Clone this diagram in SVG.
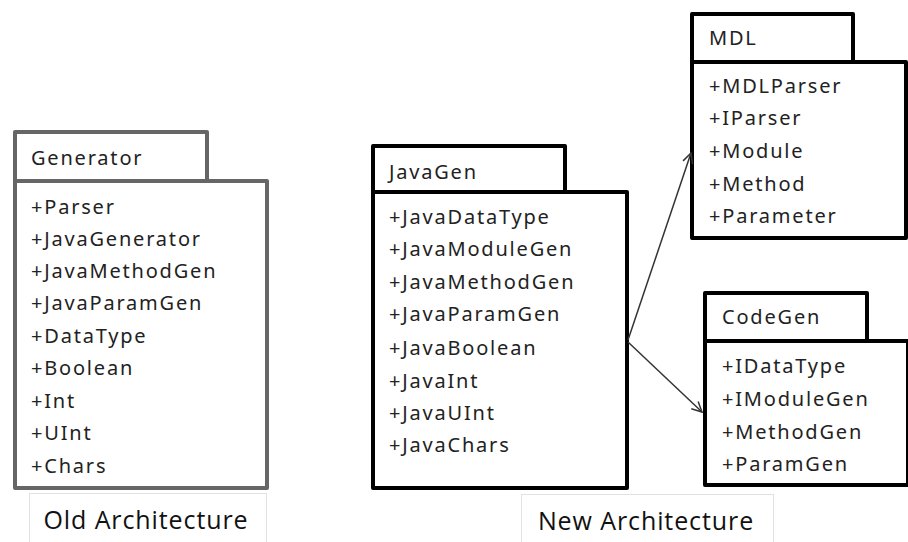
<svg xmlns="http://www.w3.org/2000/svg" width="908" height="542" viewBox="0 0 908 542">
  <style>
    .pkg { fill: #fff; stroke: #000; stroke-width: 4; stroke-linejoin: round; }
    .old { stroke: #666; }
    .t { font-family: "Noto Sans", "Open Sans", "DejaVu Sans", sans-serif; font-size: 20px; letter-spacing: 1.8px; fill: #222; }
    .cap { font-family: "Open Sans", "Noto Sans", sans-serif; font-size: 25px; letter-spacing: 0.9px; fill: #111; }
    .capbox { fill: #fff; stroke: #e2e2e2; stroke-width: 1; }
    .link { fill: none; stroke: #333; stroke-width: 1.5; }
  </style>
  <defs>
    <marker id="open" viewBox="0 0 12 12" refX="11" refY="6" markerWidth="12" markerHeight="12" markerUnits="userSpaceOnUse" orient="auto">
      <path d="M1,1 L11,6 L1,11" fill="none" stroke="#333" stroke-width="1.5"/>
    </marker>
  </defs>
  <rect width="908" height="542" fill="#fff"/>

  <!-- Old architecture: Generator package -->
  <g id="generator">
    <rect class="pkg old" x="15" y="132" width="192" height="49"/>
    <rect class="pkg old" x="15" y="181" width="252" height="307"/>
    <text class="t" x="31" y="165">Generator</text>
    <text class="t" x="31" y="214">+Parser</text>
    <text class="t" x="31" y="246">+JavaGenerator</text>
    <text class="t" x="31" y="278">+JavaMethodGen</text>
    <text class="t" x="31" y="310">+JavaParamGen</text>
    <text class="t" x="31" y="343">+DataType</text>
    <text class="t" x="31" y="375">+Boolean</text>
    <text class="t" x="31" y="408">+Int</text>
    <text class="t" x="31" y="440">+UInt</text>
    <text class="t" x="31" y="473">+Chars</text>
  </g>
  <g id="old-caption">
    <rect class="capbox" x="29.5" y="493.5" width="237" height="60"/>
    <text class="cap" x="146" y="529" text-anchor="middle">Old Architecture</text>
  </g>

  <!-- New architecture: JavaGen package -->
  <g id="javagen">
    <rect class="pkg" x="373" y="146" width="192" height="46"/>
    <rect class="pkg" x="373" y="192" width="254" height="296"/>
    <text class="t" x="389" y="179">JavaGen</text>
    <text class="t" x="389" y="224">+JavaDataType</text>
    <text class="t" x="389" y="256">+JavaModuleGen</text>
    <text class="t" x="389" y="289">+JavaMethodGen</text>
    <text class="t" x="389" y="321">+JavaParamGen</text>
    <text class="t" x="389" y="355">+JavaBoolean</text>
    <text class="t" x="389" y="388">+JavaInt</text>
    <text class="t" x="389" y="420">+JavaUInt</text>
    <text class="t" x="389" y="452">+JavaChars</text>
  </g>

  <!-- MDL package -->
  <g id="mdl">
    <rect class="pkg" x="692" y="14" width="161" height="48"/>
    <rect class="pkg" x="692" y="62" width="214" height="176"/>
    <text class="t" x="709" y="45">MDL</text>
    <text class="t" x="709" y="93">+MDLParser</text>
    <text class="t" x="709" y="125">+IParser</text>
    <text class="t" x="709" y="158">+Module</text>
    <text class="t" x="709" y="191">+Method</text>
    <text class="t" x="709" y="223">+Parameter</text>
  </g>

  <!-- CodeGen package -->
  <g id="codegen">
    <rect class="pkg" x="705" y="293" width="162" height="48"/>
    <rect class="pkg" x="705" y="341" width="203" height="144"/>
    <text class="t" x="722" y="324">CodeGen</text>
    <text class="t" x="722" y="373">+IDataType</text>
    <text class="t" x="722" y="406">+IModuleGen</text>
    <text class="t" x="722" y="439">+MethodGen</text>
    <text class="t" x="722" y="471">+ParamGen</text>
  </g>

  <g id="new-caption">
    <rect class="capbox" x="521.5" y="494.5" width="252" height="60"/>
    <text class="cap" x="646" y="530" text-anchor="middle">New Architecture</text>
  </g>

  <!-- Dependencies from JavaGen -->
  <g id="connectors">
    <line class="link" x1="628" y1="340" x2="691" y2="153" marker-end="url(#open)"/>
    <line class="link" x1="628" y1="342" x2="702" y2="412" marker-end="url(#open)"/>
  </g>
</svg>
